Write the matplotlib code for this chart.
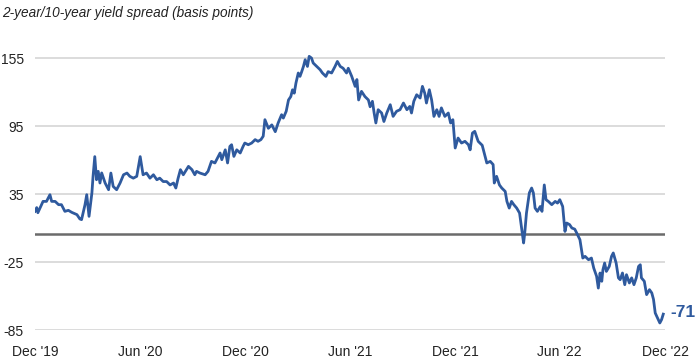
import numpy as np
import pandas as pd
import matplotlib
matplotlib.use("Agg")
import matplotlib.pyplot as plt

# Spread values (days counted from Dec 1, 2019)
start = pd.Timestamp("2019-12-01")
days = [0, 3, 5, 14, 20, 26, 29, 35, 41, 46, 52, 58, 64, 73, 78, 81, 87, 90, 94, 99,
        101, 104, 107, 110, 113, 116, 122, 128, 132, 136, 142, 148, 154, 160, 165, 171, 177, 183, 188, 194,
        200, 206, 212, 217, 223, 229, 235, 241, 245, 249, 253, 258, 267, 273, 278, 281, 287, 296, 301, 307,
        313, 319, 322, 325, 331, 335, 339, 342, 346, 351, 357, 362, 365, 371, 377, 383, 388, 393, 397, 400,
        406, 412, 418, 423, 429, 432, 437, 441, 445, 448, 451, 454, 458, 461, 464, 467, 470, 474, 477, 481,
        484, 490, 496, 500, 506, 510, 516, 522, 526, 531, 536, 542, 545, 551, 557, 560, 563, 568, 574, 580,
        583, 587, 590, 593, 597, 603, 607, 612, 618, 623, 629, 635, 641, 647, 652, 655, 659, 664, 670, 674,
        678, 681, 686, 690, 694, 699, 703, 707, 713, 719, 723, 727, 731, 736, 742, 748, 754, 757, 761, 765,
        771, 778, 786, 792, 797, 799, 803, 808, 812, 818, 821, 825, 829, 833, 838, 843, 847, 850, 852, 855,
        860, 864, 867, 870, 874, 879, 882, 886, 889, 893, 899, 905, 909, 913, 918, 922, 925, 930, 934, 939,
        943, 948, 953, 957, 963, 968, 972, 977, 980, 983, 986, 988, 991, 994, 999, 1003, 1006, 1011, 1015, 1018,
        1022, 1026, 1029, 1034, 1038, 1042, 1046, 1050, 1053, 1055, 1060, 1064, 1069, 1073, 1076, 1079, 1083, 1087, 1090, 1093]
spread = [19.7, 23, 18.5, 28.5, 28.5, 34.4, 28.5, 28.5, 25.6, 25.6, 19.7, 20.6, 18.8, 16.8, 13, 12.4, 25.6, 34.4, 15.3, 36,
          50.6, 68, 47.6, 55, 44.7, 53.6, 44.7, 38.8, 53.5, 41.7, 38.8, 44.7, 52, 53.5, 50.6, 49, 50.6, 68, 52, 53.5,
          49, 52, 47.6, 49, 46, 46, 43, 44.7, 40.3, 49, 56.5, 52, 59.4, 56.5, 52, 55, 53.5, 52, 55, 63.8,
          62.4, 68.2, 71.2, 65.3, 74, 62.4, 77, 78.5, 68.2, 74, 71.2, 77, 80, 78.5, 80, 83, 81.5, 83, 86, 100.6,
          93, 96, 90, 97.7, 105, 102, 108, 118, 121, 127, 124, 133, 141.8, 138.8, 143, 147.6, 153.5, 147.6, 156.5, 155,
          150.6, 147.6, 144.7, 141.8, 138.8, 143, 141.8, 147.6, 152, 147.6, 146, 141.8, 146, 138.8, 130, 136, 118, 125.6, 121, 118,
          112, 116.8, 106.5, 97.7, 109.4, 106.5, 99, 106.5, 113.8, 103.5, 108, 109.4, 115.3, 109.4, 112.3, 106.5, 116.8, 122.6, 119.7, 130,
          124, 115.3, 127, 118, 103.5, 109.4, 103.5, 111, 103.5, 106.5, 97.7, 100.6, 75.6, 84.4, 80, 81.5, 78.5, 74, 88.8, 90.3,
          81.5, 78, 62.4, 63.8, 61, 44.7, 50.6, 43, 40.3, 37.3, 28.5, 22.6, 28.5, 25.6, 22.6, 18.2, 3.5, -8.2, 0.6, 18.2,
          36, 40.3, 36, 22.6, 19.7, 24, 19.7, 43, 30, 28.5, 25.6, 28.5, 27, 30, 24, 2, 9.4, 8, 5, 4,
          0, -5.3, -21.5, -20, -23, -21.5, -30.3, -37.6, -48, -34.7, -42, -31.8, -25.9, -33.3, -28.9, -20, -17, -25.9, -39, -40.6,
          -34.7, -45, -36.2, -43.5, -39, -45, -39, -28.9, -27.4, -39, -42, -53.8, -49.4, -52.3, -58, -70, -74.4, -78.8, -75.9, -71]

y_ticks = [-85, -25, 35, 95, 155]
x_ticks = ["2019-12-01", "2020-06-01", "2020-12-01", "2021-06-01", "2021-12-01", "2022-06-01", "2022-12-01"]
x_labels = ["Dec '19", "Jun '20", "Dec '20", "Jun '21", "Dec '21", "Jun '22", "Dec '22"]
last_label = "-71"

dates = start + pd.to_timedelta(days, unit="D")

plt.rcParams['font.family'] = ['Liberation Sans', 'DejaVu Sans']
blue = '#2F5A9E'

fig = plt.figure(figsize=(7, 3.64), dpi=100)
ax = fig.add_axes([0.05, 0.0934, 0.9, 0.7783])

# grid + zero line
for t in y_ticks:
    ax.axhline(t, color='#D9D9D9', lw=1.3, zorder=1)
ax.axhline(0, color='#6B6B6B', lw=1.8, zorder=2)

ax.plot(dates, spread, color=blue, lw=2.0, zorder=3, solid_joinstyle='round')

ax.set_xlim(pd.Timestamp("2019-12-01"), pd.Timestamp("2022-12-01"))
ax.set_ylim(-85, 165)
ax.set_yticks(y_ticks)
ax.set_yticklabels([str(t) for t in y_ticks])
ax.set_xticks(pd.to_datetime(x_ticks))
ax.set_xticklabels(x_labels)
ax.tick_params(axis='both', length=0, labelsize=10, colors='#222222')
ax.tick_params(axis='y', pad=8)
ax.tick_params(axis='x', pad=11)
for s in ax.spines.values():
    s.set_visible(False)

ax.annotate(last_label, xy=(dates[-1], spread[-1]), xytext=(5, 1), textcoords='offset points',
            color=blue, fontsize=12.5, fontweight='bold', va='center', ha='left', annotation_clip=False)

fig.text(0.003, 0.965, "2-year/10-year yield spread (basis points)", fontsize=9.8,
         style='italic', va='center', ha='left', color='#222222')

fig.savefig("out.png", dpi=100)
